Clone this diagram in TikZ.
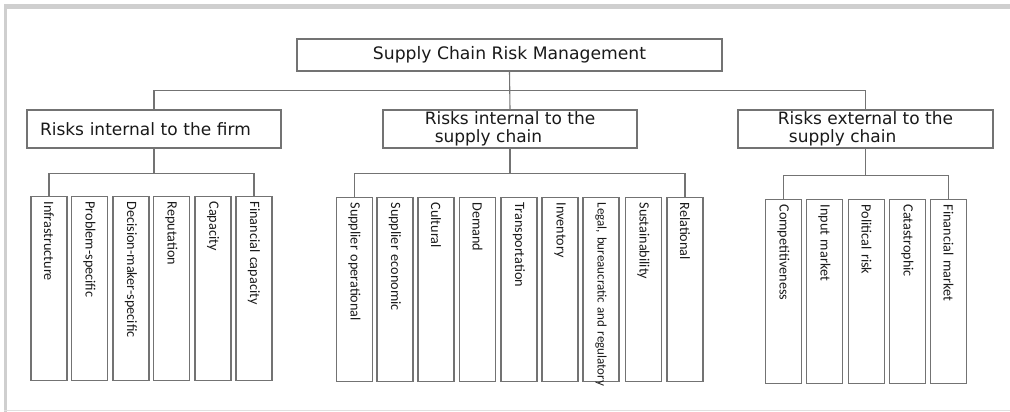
\documentclass[tikz,border=0pt]{standalone}
\usepackage{fontspec}
\setmainfont{DejaVu Sans}
\newfontfamily\leaffont{Carlito}
\begin{document}
\begin{tikzpicture}[x=1pt,y=-1pt,
  every node/.style={text=black!90},
  box/.style={draw=black!55, line width=1.1pt},
  head/.style={box, minimum width=254pt, minimum height=38pt, inner sep=0pt,
    align=left, font=\fontsize{17}{17.5}\selectfont},
  leaf/.style={box, rotate=-90, anchor=west, minimum height=36pt,
    text width=174pt, inner xsep=5pt, inner ysep=0pt, align=left,
    font=\leaffont\fontsize{14.2}{16}\selectfont},
  link/.style={draw=black!55, line width=1.1pt}
]
\useasboundingbox (0,0) rectangle (1010,412);
% page frame
\fill[black!19] (4,4.5) rectangle (1010,9);
\fill[black!19] (4,4.5) rectangle (7,412);
\draw[black!12, line width=1pt] (4,410.7) -- (1010,410.7);

% root
\node[box, minimum width=425pt, minimum height=32pt, inner sep=0pt,
  font=\fontsize{17.2}{18}\selectfont] (root) at (509.5,55) {Supply Chain Risk Management};

% second level
\node[head, text width=228pt, inner xsep=13pt] (rl) at (154,129) {Risks internal to the firm};
\node[head] (rm) at (510,129) {Risks internal to the\\\hspace{10pt}supply chain};
\node[head, minimum width=255pt] (re) at (865.5,129) {Risks external to the\\\hspace{11pt}supply chain};

% risks internal to the firm
\node[leaf] (a1) at (49,196) {Infrastructure};
\node[leaf] (a2) at (89.5,196) {Problem-specific};
\node[leaf] (a3) at (131,196) {Decision-maker-specific};
\node[leaf] (a4) at (171.5,196) {Reputation};
\node[leaf] (a5) at (213,196) {Capacity};
\node[leaf] (a6) at (254,196) {Financial capacity};

% risks internal to the supply chain
\node[leaf] (b1) at (354.5,197) {Supplier operational};
\node[leaf] (b2) at (395,197) {Supplier economic};
\node[leaf] (b3) at (436,197) {Cultural};
\node[leaf] (b4) at (477.5,197) {Demand};
\node[leaf] (b5) at (519,197) {Transportation};
\node[leaf] (b6) at (560,197) {Inventory};
\node[leaf, font=\leaffont\fontsize{13}{14}\selectfont] (b7) at (601,197) {\mbox{Legal, bureaucratic and regulatory}};
\node[leaf] (b8) at (643.5,197) {Sustainability};
\node[leaf] (b9) at (685,197) {Relational};

% risks external to the supply chain
\node[leaf] (c1) at (783.5,199) {Competitiveness};
\node[leaf] (c2) at (824.5,199) {Input market};
\node[leaf] (c3) at (866.5,199) {Political risk};
\node[leaf] (c4) at (907.5,199) {Catastrophic};
\node[leaf] (c5) at (948.5,199) {Financial market};

% connectors
\draw[link] (root.south) -- ++(0,19) -| (rl.north);
\draw[link] (root.south) -- (rm.north);
\draw[link] (root.south) -- ++(0,19) -| (re.north);

\draw[link] (rl.south) -- ++(0,25) -| (a1.west);
\draw[link] (rl.south) -- ++(0,25) -| (a6.west);
\draw[link] (rm.south) -- ++(0,25) -| (b1.west);
\draw[link] (rm.south) -- ++(0,25) -| (b9.west);
\draw[link] (re.south) -- ++(0,27) -| (c1.west);
\draw[link] (re.south) -- ++(0,27) -| (c5.west);
\end{tikzpicture}
\end{document}
